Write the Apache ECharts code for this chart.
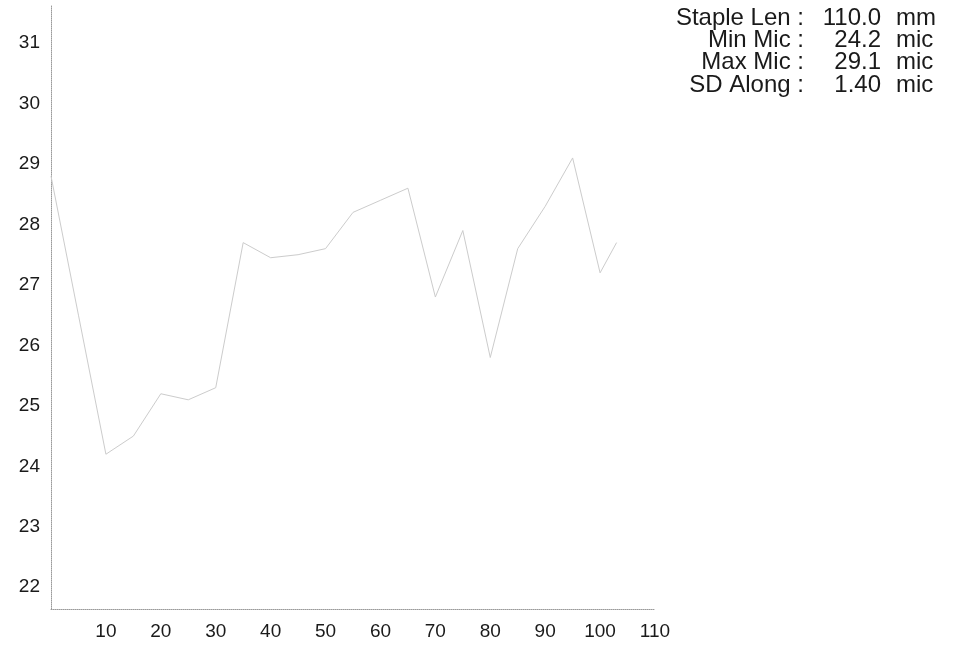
<!DOCTYPE html>
<html>
<head>
<meta charset="utf-8">
<script src="https://cdn.jsdelivr.net/npm/echarts@6/dist/echarts.min.js"></script>
<style>
html,body{margin:0;padding:0;background:#fff;}
#chart{width:959px;height:646px;}
</style>
</head>
<body>
<div id="chart"></div>
<script>
// Data
var positionsMm = [0, 5, 10, 15, 20, 25, 30, 35, 40, 45, 50, 55, 60, 65, 70, 75, 80, 85, 90, 95, 100, 103];
var micValues  = [28.8, 26.5, 24.2, 24.5, 25.2, 25.1, 25.3, 27.7, 27.45, 27.5, 27.6, 28.2, 28.4, 28.6, 26.8, 27.9, 25.8, 27.6, 28.3, 29.1, 27.2, 27.7];
var yTickValues = [22, 23, 24, 25, 26, 27, 28, 29, 30, 31];
var xTickValues = [10, 20, 30, 40, 50, 60, 70, 80, 90, 100, 110];
var statLabels = ['Staple Len :', 'Min Mic :', 'Max Mic :', 'SD Along :'];
var statNumbers = ['110.0', '24.2', '29.1', '1.40'];
var statUnits = ['mm', 'mic', 'mic', 'mic'];

var seriesData = positionsMm.map(function (x, i) { return [x, micValues[i]]; });
var FONT = '"Liberation Sans", Arial, sans-serif';
var SFONT = '24px ' + FONT;

var statGraphics = [];
statLabels.forEach(function (lab, i) {
  var cy = 18 + i * 22.4;
  statGraphics.push({type: 'text', silent: true, style: {x: 804, y: cy, text: lab, font: SFONT, fill: '#1a1a1a', align: 'right', verticalAlign: 'middle'}});
  statGraphics.push({type: 'text', silent: true, style: {x: 881, y: cy, text: statNumbers[i], font: SFONT, fill: '#1a1a1a', align: 'right', verticalAlign: 'middle'}});
  statGraphics.push({type: 'text', silent: true, style: {x: 896, y: cy, text: statUnits[i], font: SFONT, fill: '#1a1a1a', align: 'left', verticalAlign: 'middle'}});
});

var chart = echarts.init(document.getElementById('chart'), null, {renderer: 'canvas'});
chart.setOption({
  animation: false,
  backgroundColor: '#ffffff',
  grid: {left: 51, right: 304, top: 5, bottom: 37, containLabel: false},
  xAxis: {
    type: 'value', min: 0, max: 110,
    axisLine: {show: true, onZero: false, lineStyle: {color: '#9a9a9a', type: 'dotted', width: 1}},
    axisTick: {show: false},
    splitLine: {show: false},
    axisLabel: {customValues: xTickValues, color: '#1a1a1a', fontSize: 19, fontFamily: FONT, margin: 13}
  },
  yAxis: {
    type: 'value', min: 21.64, max: 31.63,
    axisLine: {show: true, onZero: false, lineStyle: {color: '#9a9a9a', type: 'dotted', width: 1}},
    axisTick: {show: false},
    splitLine: {show: false},
    axisLabel: {customValues: yTickValues, color: '#1a1a1a', fontSize: 19, fontFamily: FONT, margin: 11}
  },
  series: [{
    type: 'line',
    data: seriesData,
    showSymbol: false,
    lineStyle: {color: '#cccccc', width: 1},
    silent: true
  }],
  graphic: statGraphics
});
</script>
</body>
</html>
